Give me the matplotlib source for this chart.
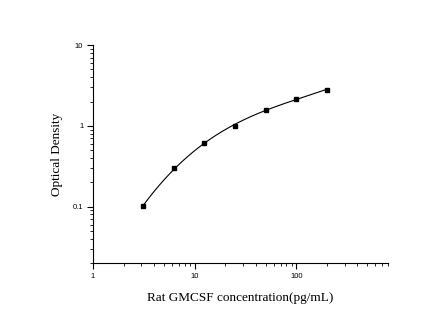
import numpy as np
import matplotlib
matplotlib.use('Agg')
import matplotlib.pyplot as plt
from matplotlib.ticker import LogLocator, NullFormatter, FixedLocator, FixedFormatter

# standardna krivulja
konc = [3.125, 6.25, 12.5, 25, 50, 100, 200]
od = [0.102, 0.30, 0.61, 1.0, 1.58, 2.17, 2.8]

fig = plt.figure(figsize=(4.45, 3.22), dpi=100)
ax = fig.add_axes([0.209, 0.183, 0.663, 0.677])

# gladka krivulja skozi tocke (prileganje v log-log prostoru)
lx = np.log10(konc)
ly = np.log10(od)
p = np.polyfit(lx, ly, 3)
xs = np.linspace(lx[0], lx[-1], 200)
ax.plot(10**xs, 10**np.polyval(p, xs), color='k', lw=0.8)
ax.plot(konc, od, 's', color='k', ms=3.5)

ax.set_xscale('log')
ax.set_yscale('log')
ax.set_xlim(1, 800)
ax.set_ylim(0.02, 10)

ax.spines['top'].set_visible(False)
ax.spines['right'].set_visible(False)
ax.xaxis.set_major_locator(FixedLocator([1, 10, 100]))
ax.xaxis.set_major_formatter(FixedFormatter(['1', '10', '100']))
ax.yaxis.set_major_locator(FixedLocator([0.1, 1, 10]))
ax.yaxis.set_major_formatter(FixedFormatter(['0.1', '1', '10']))
ax.xaxis.set_minor_locator(LogLocator(base=10, subs=range(2, 10), numticks=20))
ax.yaxis.set_minor_locator(LogLocator(base=10, subs=range(2, 10), numticks=20))
ax.xaxis.set_minor_formatter(NullFormatter())
ax.yaxis.set_minor_formatter(NullFormatter())
ax.tick_params(which='major', length=4, width=0.8, labelsize=5.5, pad=3)
ax.tick_params(which='minor', length=2.5, width=0.6)
for lab in ax.get_xticklabels() + ax.get_yticklabels():
    lab.set_family('Liberation Sans')

ax.set_xlabel('Rat GMCSF concentration(pg/mL)', family='Liberation Serif', fontsize=9.5, labelpad=9)
ax.set_ylabel('Optical Density', family='Liberation Serif', fontsize=9.5, labelpad=7)

plt.savefig('out.png', dpi=100)
